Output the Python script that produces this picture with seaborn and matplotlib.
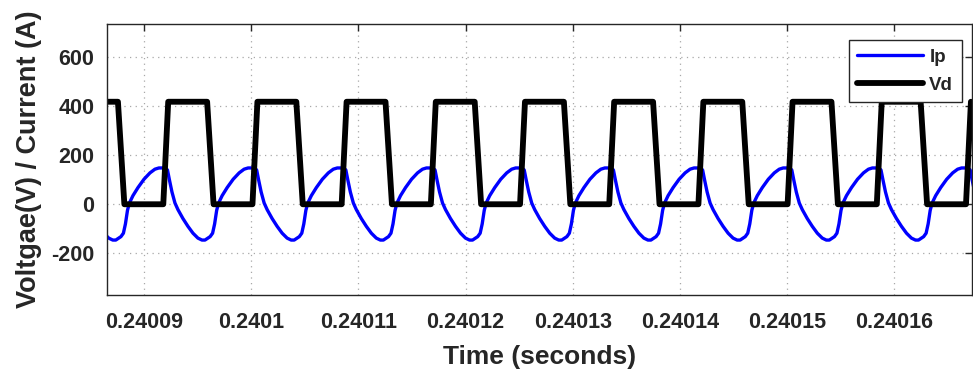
import numpy as np
import pandas as pd
import matplotlib
matplotlib.use("Agg")
import matplotlib.pyplot as plt
import seaborn as sns
from matplotlib.ticker import FixedLocator, FixedFormatter

# ---------------- data ----------------
# start of each switching cycle (Vd falling edge), microseconds after t = 0.24 s
cycle_start_us = [79.25, 87.57, 95.89, 104.21, 112.53, 120.85, 129.17,
                  137.49, 145.81, 154.13, 162.45]

# one cycle of Ip: offsets (us) from the cycle start and current (A)
ip_offset_us = [0.00, 0.28, 0.51, 0.70, 0.89, 1.07, 1.40, 1.87, 2.43, 2.99,
                3.45, 3.82, 4.38, 4.62, 4.80, 5.04, 5.32, 5.60, 6.06, 6.53,
                7.00, 7.46, 7.84, 8.12]
ip_amps = [-140, -132, -118, -80, -25, 5, 35, 68, 102, 128,
           143, 148, 148, 140, 100, 50, 5, -22, -58, -90,
           -118, -138, -146, -146]

# one cycle of Vd: offsets (us) from the cycle start and voltage (V)
vd_offset_us = [0.00, 0.60, 4.23, 4.69]
vd_volts = [418, 0, 0, 418]

x_tick_values = [0.24009, 0.24010, 0.24011, 0.24012, 0.24013, 0.24014,
                 0.24015, 0.24016]
x_tick_labels = ["0.24009", "0.2401", "0.24011", "0.24012", "0.24013",
                 "0.24014", "0.24015", "0.24016"]
y_tick_values = [-200, 0, 200, 400, 600]
y_tick_labels = ["-200", "0", "200", "400", "600"]
x_limits_us = [86.55, 167.24]
y_limits = [-370, 735]

# ---------------- build tables ----------------
def build(offsets, values, name):
    rows = []
    for start in cycle_start_us:
        for o, v in zip(offsets, values):
            rows.append((0.24 + (start + o) * 1e-6, v, name))
    return pd.DataFrame(rows, columns=["time", "value", "signal"])

df_ip = build(ip_offset_us, ip_amps, "Ip")
df_vd = build(vd_offset_us, vd_volts, "Vd")

# ---------------- style ----------------
sns.set_theme(style="white")
plt.rcParams["font.family"] = ["Liberation Sans", "DejaVu Sans"]
plt.rcParams["font.weight"] = "bold"
plt.rcParams["axes.labelweight"] = "bold"
plt.rcParams["axes.unicode_minus"] = False

fig = plt.figure(figsize=(9.73, 3.76), dpi=100)
ax = fig.add_axes([107 / 973, 81 / 376, 865 / 973, 271 / 376])

sns.lineplot(data=df_ip, x="time", y="value", ax=ax, color="#0000ff",
             linewidth=2.4, label="Ip", sort=False, estimator=None)
sns.lineplot(data=df_vd, x="time", y="value", ax=ax, color="black",
             linewidth=4.2, label="Vd", sort=False, estimator=None)

ax.set_xlim(0.24 + x_limits_us[0] * 1e-6, 0.24 + x_limits_us[1] * 1e-6)
ax.set_ylim(*y_limits)
ax.xaxis.set_major_locator(FixedLocator(x_tick_values))
ax.xaxis.set_major_formatter(FixedFormatter(x_tick_labels))
ax.yaxis.set_major_locator(FixedLocator(y_tick_values))
ax.yaxis.set_major_formatter(FixedFormatter(y_tick_labels))

ax.set_xlabel("Time (seconds)", fontsize=19, fontweight="bold",
              color="#262626", labelpad=9)
ax.set_ylabel("Voltgae(V) / Current (A)", fontsize=19.5, fontweight="bold",
              color="#262626", labelpad=7)

ax.tick_params(axis="both", which="major", direction="in", top=True,
               right=True, length=5, width=1, color="#262626",
               labelcolor="#262626", labelsize=15.5)
ax.tick_params(axis="x", pad=12)
ax.tick_params(axis="y", pad=9)
for lab in ax.get_xticklabels() + ax.get_yticklabels():
    lab.set_fontweight("bold")

for s in ax.spines.values():
    s.set_visible(True)
    s.set_color("#262626")
    s.set_linewidth(1.0)

ax.grid(True, linestyle=(0, (1, 3.5)), color="#a8a8a8", linewidth=0.9)

leg = ax.legend(loc="upper right", bbox_to_anchor=(0.988, 0.941),
                borderaxespad=0, frameon=True, fancybox=False,
                edgecolor="#262626", framealpha=1,
                prop={"weight": "bold", "size": 13.5},
                handlelength=3.5, labelspacing=0.6, borderpad=0.45,
                handletextpad=0.35)
leg.get_frame().set_linewidth(1.0)

fig.savefig("out.png", dpi=100)
